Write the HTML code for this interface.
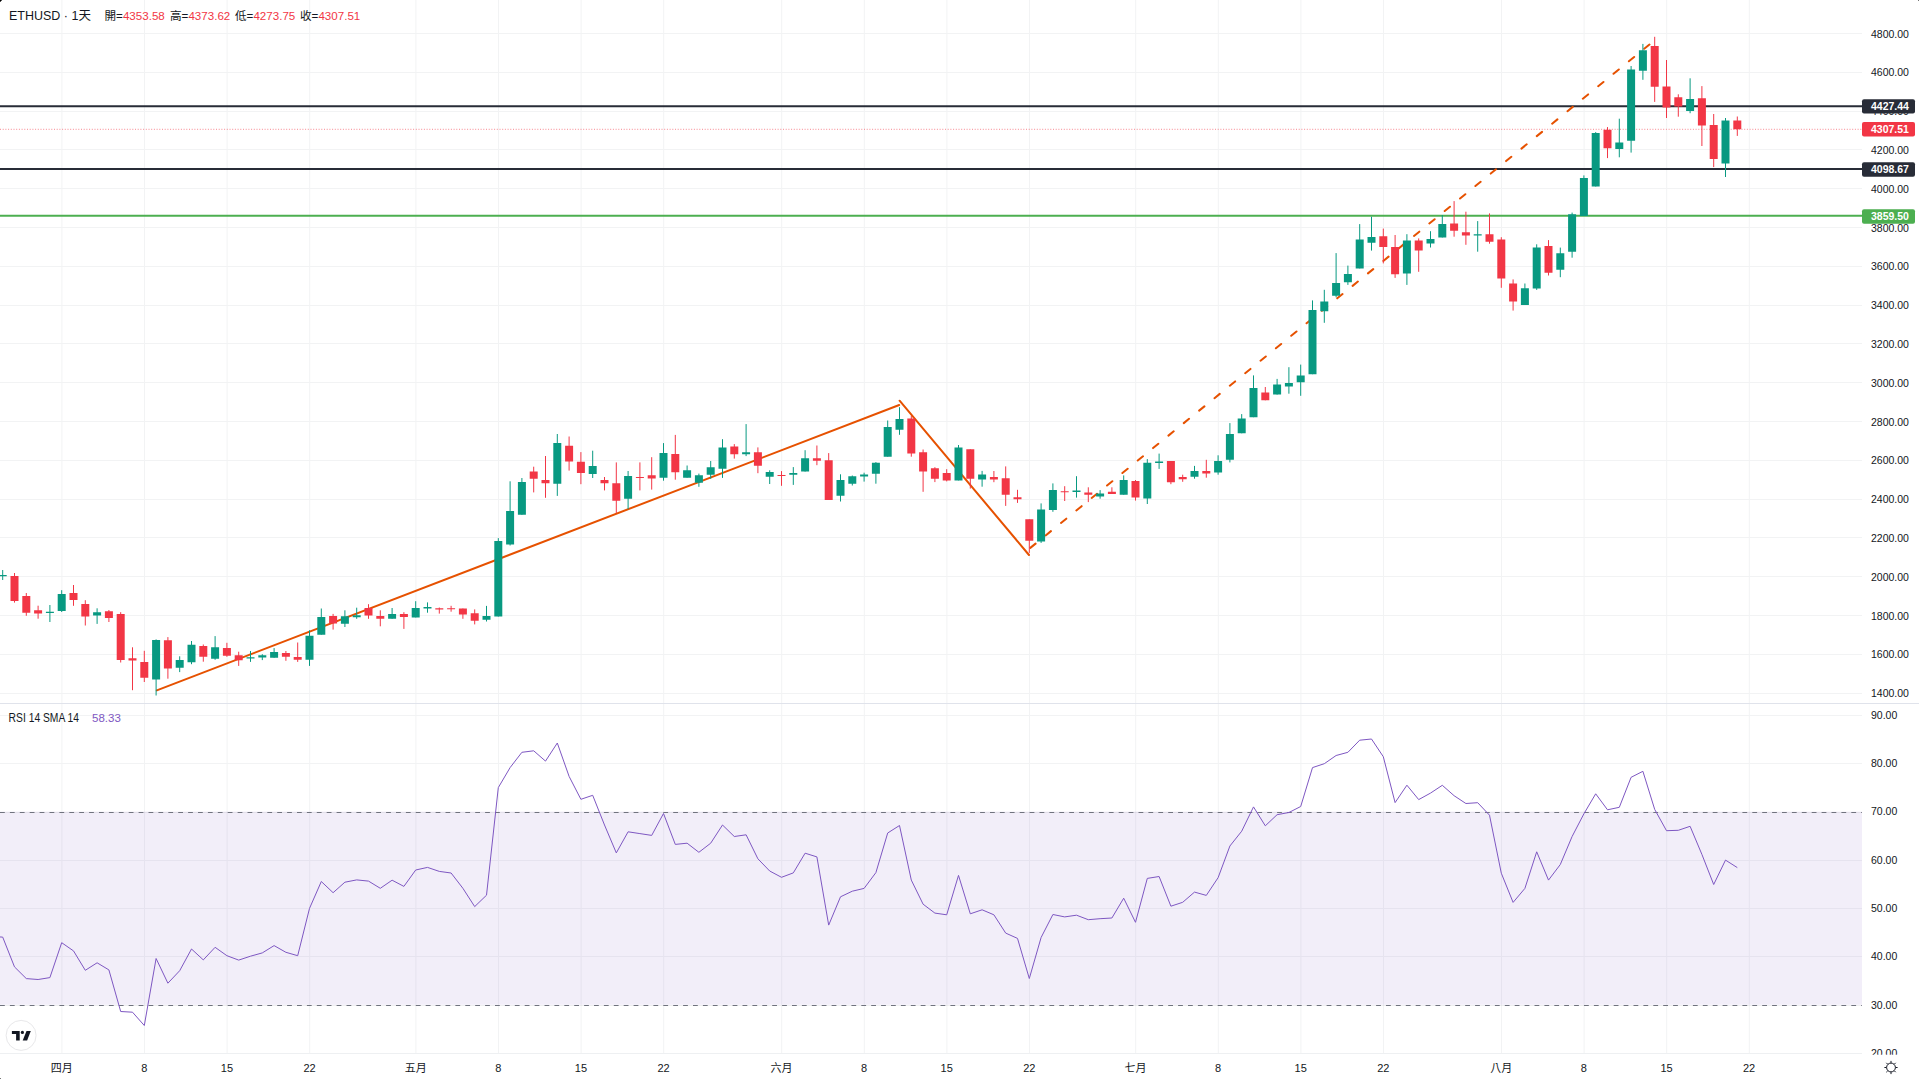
<!DOCTYPE html>
<html><head><meta charset="utf-8"><title>ETHUSD</title>
<style>html,body{margin:0;padding:0;background:#fff;width:1919px;height:1079px;overflow:hidden}</style>
</head><body>
<svg width="1919" height="1079" viewBox="0 0 1919 1079" style="position:absolute;left:0;top:0">
<rect x="0" y="0" width="1919" height="1079" fill="#ffffff"/>
<path d="M0 693.5H1862M0 654.5H1862M0 615.5H1862M0 576.5H1862M0 537.5H1862M0 499.5H1862M0 460.5H1862M0 421.5H1862M0 382.5H1862M0 343.5H1862M0 305.5H1862M0 266.5H1862M0 227.5H1862M0 188.5H1862M0 149.5H1862M0 111.5H1862M0 72.5H1862M0 33.5H1862M0 715.5H1862M0 763.5H1862M0 860.5H1862M0 908.5H1862M0 956.5H1862M0 1053.5H1862M61.90 0V1053.5M144.50 0V1053.5M227.10 0V1053.5M309.70 0V1053.5M415.90 0V1053.5M498.50 0V1053.5M581.10 0V1053.5M663.70 0V1053.5M781.70 0V1053.5M864.30 0V1053.5M946.90 0V1053.5M1029.50 0V1053.5M1135.70 0V1053.5M1218.30 0V1053.5M1300.90 0V1053.5M1383.50 0V1053.5M1501.50 0V1053.5M1584.10 0V1053.5M1666.70 0V1053.5M1749.30 0V1053.5" stroke="#f2f3f4" stroke-width="1" fill="none"/>
<rect x="0" y="811.6" width="1862" height="193.2" fill="#7e57c2" fill-opacity="0.1"/>
<path d="M0 703.5H1919" stroke="#e0e3eb" stroke-width="1"/>
<path d="M0 1053.5H1862" stroke="#eef0f2" stroke-width="1"/>
<path d="M0 812.5H1862" stroke="#787b86" stroke-opacity="0.12" stroke-width="1"/>
<path d="M0 812.5H1862" stroke="#70737e" stroke-width="1" stroke-dasharray="4.8 5.1"/>
<path d="M0 1005.5H1862" stroke="#787b86" stroke-opacity="0.12" stroke-width="1"/>
<path d="M0 1005.5H1862" stroke="#70737e" stroke-width="1" stroke-dasharray="4.8 5.1"/>
<path d="M0 106.2H1862" stroke="#282c37" stroke-width="2"/>
<path d="M0 168.9H1862" stroke="#282c37" stroke-width="2"/>
<path d="M0 215.8H1862" stroke="#4caf50" stroke-width="2"/>
<path d="M0 129.3H1862" stroke="#f23645" stroke-opacity="0.6" stroke-width="1" stroke-dasharray="1 1.7"/>
<path d="M156.8 690.4L899.2 405" stroke="#e65100" stroke-width="2" stroke-linecap="round" fill="none"/>
<path d="M899.6 400.7L1029 555" stroke="#e65100" stroke-width="2" stroke-linecap="round" fill="none"/>
<path d="M1030.3 547.9L1649.5 44.5" stroke="#e65100" stroke-width="2" stroke-linecap="round" stroke-dasharray="6.8 12.98" fill="none"/>
<path d="M2.70 570.0V580.0M49.90 605.0V622.0M61.70 590.2V612.0M97.10 608.3V623.9M156.10 639.4V695.5M179.70 656.3V672.1M191.50 641.0V664.2M215.10 636.1V659.8M250.50 651.0V661.9M262.30 654.2V660.1M274.10 648.1V657.8M309.50 630.3V665.9M321.30 608.5V634.7M344.90 610.3V627.0M356.70 607.7V618.8M392.10 608.0V618.8M415.70 601.2V617.4M427.50 602.4V612.7M486.50 605.9V621.5M498.30 538.1V616.5M510.10 481.3V545.5M521.90 478.0V514.8M557.30 434.0V495.9M592.70 450.7V478.0M628.10 471.0V509.1M663.50 443.1V480.7M687.10 465.5V477.7M698.90 473.6V486.8M710.70 461.0V478.8M722.50 439.2V477.9M746.10 424.1V456.1M769.70 470.3V484.0M793.30 467.1V484.9M805.10 450.2V471.6M840.50 474.3V501.5M852.30 475.5V485.5M864.10 472.7V481.6M875.90 462.1V483.7M887.70 420.5V456.7M899.50 407.2V434.8M958.50 445.0V480.4M982.10 470.9V486.7M1041.10 503.4V542.9M1052.90 483.4V511.8M1076.50 476.2V497.6M1100.10 490.1V498.7M1123.70 475.4V494.7M1147.30 459.1V504.0M1159.10 453.6V468.9M1194.50 465.9V478.7M1218.10 455.3V474.7M1229.90 423.1V462.4M1241.70 414.1V433.3M1253.50 375.4V417.2M1277.10 378.9V394.6M1288.90 367.2V393.7M1300.70 364.6V395.8M1312.50 300.4V374.2M1324.30 289.8V322.8M1336.10 253.1V297.3M1347.90 265.6V284.9M1359.70 224.1V268.4M1371.50 216.7V250.6M1406.90 234.2V284.9M1430.50 231.2V247.5M1442.30 215.0V237.5M1477.70 221.1V251.7M1524.90 283.5V304.9M1536.70 244.3V289.9M1560.30 247.6V277.2M1572.10 212.6V257.7M1583.90 175.4V215.9M1595.70 132.1V186.5M1619.30 118.7V157.3M1631.10 66.0V152.6M1642.90 43.9V79.8M1690.10 78.3V113.2M1725.50 118.0V177.0" stroke="#089981" stroke-width="1" fill="none"/>
<path d="M-1.30 575.0h8v1.2h-8zM45.90 611.8h8v1.2h-8zM57.70 594.1h8v16.8h-8zM93.10 612.2h8v3.4h-8zM152.10 640.0h8v39.5h-8zM175.70 660.1h8v7.7h-8zM187.50 644.7h8v17.5h-8zM211.10 647.3h8v11.5h-8zM246.50 657.3h8v1.2h-8zM258.30 655.2h8v2.3h-8zM270.10 651.9h8v5.9h-8zM305.50 635.7h8v24.1h-8zM317.30 616.9h8v17.8h-8zM340.90 616.2h8v7.5h-8zM352.70 615.2h8v2.0h-8zM388.10 614.1h8v4.7h-8zM411.70 608.0h8v9.4h-8zM423.50 607.0h8v1.5h-8zM482.50 615.9h8v3.8h-8zM494.30 541.0h8v75.5h-8zM506.10 511.1h8v33.4h-8zM517.90 481.9h8v32.9h-8zM553.30 443.0h8v40.8h-8zM588.70 466.1h8v8.0h-8zM624.10 476.0h8v22.8h-8zM659.50 453.0h8v24.7h-8zM683.10 470.2h8v7.5h-8zM694.90 475.3h8v7.4h-8zM706.70 467.3h8v7.5h-8zM718.50 447.4h8v21.4h-8zM742.10 452.3h8v1.9h-8zM765.70 471.9h8v4.8h-8zM789.30 473.0h8v1.8h-8zM801.10 458.2h8v13.4h-8zM836.50 480.1h8v15.6h-8zM848.30 476.3h8v7.4h-8zM860.10 474.5h8v2.0h-8zM871.90 462.8h8v11.0h-8zM883.70 427.1h8v29.6h-8zM895.50 419.0h8v10.7h-8zM954.50 447.5h8v32.9h-8zM978.10 474.5h8v5.1h-8zM1037.10 509.5h8v32.1h-8zM1048.90 490.1h8v19.8h-8zM1072.50 490.6h8v1.5h-8zM1096.10 493.6h8v2.9h-8zM1119.70 480.0h8v14.7h-8zM1143.30 462.8h8v35.6h-8zM1155.10 461.4h8v1.7h-8zM1190.50 471.0h8v5.7h-8zM1214.10 461.0h8v11.6h-8zM1225.90 433.9h8v25.9h-8zM1237.70 418.6h8v14.7h-8zM1249.50 388.0h8v29.2h-8zM1273.10 384.4h8v10.2h-8zM1284.90 382.9h8v3.5h-8zM1296.70 375.4h8v6.9h-8zM1308.50 310.0h8v64.2h-8zM1320.30 301.4h8v9.8h-8zM1332.10 282.9h8v12.8h-8zM1343.90 274.0h8v8.3h-8zM1355.70 239.5h8v28.9h-8zM1367.50 237.1h8v5.7h-8zM1402.90 240.4h8v33.0h-8zM1426.50 238.9h8v4.7h-8zM1438.30 224.1h8v13.4h-8zM1473.70 234.2h8v1.4h-8zM1520.90 288.2h8v16.7h-8zM1532.70 247.6h8v40.9h-8zM1556.30 253.2h8v16.6h-8zM1568.10 214.3h8v37.5h-8zM1579.90 178.0h8v37.9h-8zM1591.70 132.9h8v53.6h-8zM1615.30 142.4h8v6.6h-8zM1627.10 69.4h8v71.4h-8zM1638.90 50.2h8v20.5h-8zM1686.10 99.0h8v11.9h-8zM1721.50 120.6h8v43.0h-8z" fill="#089981"/>
<path d="M14.50 573.0V602.6M26.30 593.0V615.8M38.10 605.7V618.7M73.50 585.0V605.8M85.30 600.2V625.5M108.90 610.0V622.0M120.70 612.2V662.5M132.50 647.3V690.2M144.30 650.8V682.0M167.90 637.1V678.7M203.30 644.5V661.7M226.90 642.8V656.8M238.70 651.7V665.9M285.90 651.0V660.8M297.70 642.5V661.9M333.10 613.9V629.6M368.50 604.2V618.8M380.30 610.3V626.3M403.90 612.2V628.9M439.30 607.5V613.6M451.10 605.8V611.7M462.90 608.5V618.8M474.70 609.4V624.4M533.70 466.7V492.4M545.50 456.0V497.8M569.10 436.5V470.6M580.90 452.1V484.2M604.50 477.0V490.4M616.30 462.4V513.0M639.90 462.4V490.4M651.70 457.2V489.6M675.30 434.9V479.7M734.30 444.1V458.6M757.90 447.4V473.2M781.50 471.1V485.8M816.90 445.5V465.2M828.70 453.1V499.9M911.30 415.9V456.7M923.10 449.5V491.8M934.90 467.2V482.1M946.70 469.2V481.4M970.30 449.2V488.6M993.90 471.0V482.2M1005.70 466.4V505.9M1017.50 489.8V502.9M1029.30 519.3V552.9M1064.70 486.2V501.0M1088.30 487.3V502.1M1111.90 487.3V494.0M1135.50 480.0V500.6M1170.90 461.0V484.2M1182.70 474.7V481.8M1206.30 459.8V477.7M1265.30 387.0V400.3M1383.30 228.6V263.4M1395.10 235.0V277.9M1418.70 238.4V271.8M1454.10 201.1V236.7M1465.90 211.7V244.8M1489.50 213.4V243.7M1501.30 237.2V287.8M1513.10 279.4V310.6M1548.50 240.1V275.5M1607.50 127.1V158.1M1654.70 36.8V101.9M1666.50 60.0V118.0M1678.30 94.3V116.7M1701.90 86.1V146.0M1713.70 114.0V167.1M1737.30 116.5V135.9" stroke="#f23645" stroke-width="1" fill="none"/>
<path d="M10.50 576.0h8v25.0h-8zM22.30 596.0h8v16.8h-8zM34.10 610.2h8v3.4h-8zM69.50 593.1h8v6.9h-8zM81.30 604.1h8v12.4h-8zM104.90 611.3h8v6.7h-8zM116.70 614.1h8v45.9h-8zM128.50 658.3h8v2.3h-8zM140.30 661.9h8v15.9h-8zM163.90 640.2h8v28.3h-8zM199.30 646.1h8v10.7h-8zM222.90 648.1h8v7.6h-8zM234.70 655.2h8v5.1h-8zM281.90 652.9h8v3.9h-8zM293.70 657.1h8v2.7h-8zM329.10 616.0h8v7.5h-8zM364.50 608.0h8v7.5h-8zM376.30 616.0h8v2.8h-8zM399.90 614.1h8v2.8h-8zM435.30 608.2h8v1.2h-8zM447.10 608.3h8v1.0h-8zM458.90 608.5h8v6.1h-8zM470.70 613.3h8v7.4h-8zM529.70 471.6h8v7.2h-8zM541.50 479.9h8v3.3h-8zM565.10 445.7h8v15.7h-8zM576.90 461.8h8v11.1h-8zM600.50 479.9h8v3.3h-8zM612.30 483.2h8v17.6h-8zM635.90 477.0h8v1.0h-8zM647.70 475.3h8v3.3h-8zM671.30 453.9h8v18.3h-8zM730.30 446.4h8v7.8h-8zM753.90 452.2h8v13.6h-8zM777.50 475.0h8v1.0h-8zM812.90 458.2h8v2.5h-8zM824.70 460.2h8v39.7h-8zM907.30 418.6h8v35.0h-8zM919.10 452.3h8v19.1h-8zM930.90 468.2h8v10.6h-8zM942.70 473.0h8v7.4h-8zM966.30 449.2h8v29.6h-8zM989.90 477.1h8v2.4h-8zM1001.70 478.2h8v16.5h-8zM1013.50 497.3h8v1.9h-8zM1025.30 519.3h8v21.4h-8zM1060.70 491.2h8v1.1h-8zM1084.30 492.6h8v2.1h-8zM1107.90 491.7h8v2.3h-8zM1131.50 480.9h8v16.7h-8zM1166.90 461.0h8v21.2h-8zM1178.70 477.1h8v2.2h-8zM1202.30 471.0h8v2.6h-8zM1261.30 392.5h8v7.8h-8zM1379.30 236.2h8v10.9h-8zM1391.10 247.1h8v27.1h-8zM1414.70 240.4h8v10.2h-8zM1450.10 223.4h8v7.4h-8zM1461.90 232.3h8v3.3h-8zM1485.50 234.2h8v7.5h-8zM1497.30 239.4h8v39.2h-8zM1509.10 283.5h8v18.0h-8zM1544.50 246.0h8v26.7h-8zM1603.50 129.8h8v18.4h-8zM1650.70 46.0h8v40.8h-8zM1662.50 86.4h8v21.0h-8zM1674.30 97.2h8v9.4h-8zM1697.90 98.3h8v27.2h-8zM1709.70 125.0h8v33.9h-8zM1733.30 120.4h8v8.9h-8z" fill="#f23645"/>
<path d="M-9.1 936.5L2.7 937.1L14.5 966.9L26.3 978.6L38.1 979.5L49.9 977.6L61.7 942.7L73.5 950.9L85.3 970.3L97.1 962.8L108.9 969.9L120.7 1011.5L132.5 1012.2L144.3 1025.5L156.1 958.5L167.9 983.2L179.7 970.7L191.5 949.0L203.3 959.9L215.1 947.3L226.9 955.7L238.7 960.1L250.5 956.2L262.3 952.9L274.1 945.6L285.9 952.3L297.7 955.7L309.5 908.4L321.3 881.5L333.1 892.7L344.9 882.2L356.7 879.9L368.5 881.1L380.3 888.3L392.1 880.2L403.9 886.4L415.7 870.0L427.5 867.4L439.3 871.4L451.1 873.0L462.9 888.3L474.7 906.6L486.5 895.2L498.3 787.6L510.1 767.6L521.9 752.3L533.7 750.8L545.5 761.1L557.3 743.0L569.1 776.4L580.9 799.3L592.7 795.3L604.5 825.0L616.3 852.9L628.1 831.8L639.9 833.6L651.7 835.4L663.5 813.5L675.3 844.4L687.1 843.2L698.9 852.3L710.7 843.2L722.5 825.0L734.3 836.5L746.1 834.8L757.9 858.8L769.7 871.0L781.5 877.3L793.3 872.9L805.1 853.2L816.9 856.9L828.7 925.1L840.5 896.8L852.3 891.2L864.1 888.4L875.9 872.6L887.7 833.0L899.5 825.5L911.3 880.1L923.1 904.2L934.9 913.1L946.7 914.8L958.5 875.4L970.3 913.8L982.1 909.8L993.9 914.8L1005.7 933.1L1017.5 938.4L1029.3 978.5L1041.1 937.5L1052.9 914.5L1064.7 916.9L1076.5 915.2L1088.3 919.7L1100.1 918.7L1111.9 918.0L1123.7 898.2L1135.5 922.3L1147.3 878.4L1159.1 876.5L1170.9 906.2L1182.7 902.3L1194.5 892.1L1206.3 895.4L1218.1 877.7L1229.9 846.0L1241.7 831.2L1253.5 806.9L1265.3 825.8L1277.1 814.7L1288.9 812.5L1300.7 806.5L1312.5 767.6L1324.3 763.7L1336.1 755.5L1347.9 752.3L1359.7 740.2L1371.5 739.0L1383.3 756.7L1395.1 802.6L1406.9 785.2L1418.7 799.6L1430.5 793.1L1442.3 785.3L1454.1 795.7L1465.9 803.5L1477.7 802.7L1489.5 815.2L1501.3 873.2L1513.1 902.4L1524.9 888.4L1536.7 851.8L1548.5 880.1L1560.3 864.5L1572.1 836.5L1583.9 813.8L1595.7 793.8L1607.5 809.8L1619.3 807.3L1631.1 777.3L1642.9 771.3L1654.7 809.4L1666.5 830.7L1678.3 830.3L1690.1 826.3L1701.9 854.4L1713.7 884.5L1725.5 860.1L1737.3 867.6" stroke="#7e57c2" stroke-width="1" fill="none" stroke-linejoin="round"/>
<g font-family='"Liberation Sans", "Noto Sans CJK TC", sans-serif' font-size="10.5" fill="#131722"><text x="1871" y="697.2">1400.00</text><text x="1871" y="658.4">1600.00</text><text x="1871" y="619.6">1800.00</text><text x="1871" y="580.8">2000.00</text><text x="1871" y="542.0">2200.00</text><text x="1871" y="503.2">2400.00</text><text x="1871" y="464.4">2600.00</text><text x="1871" y="425.6">2800.00</text><text x="1871" y="386.8">3000.00</text><text x="1871" y="347.9">3200.00</text><text x="1871" y="309.1">3400.00</text><text x="1871" y="270.3">3600.00</text><text x="1871" y="231.5">3800.00</text><text x="1871" y="192.7">4000.00</text><text x="1871" y="153.9">4200.00</text><text x="1871" y="115.1">4400.00</text><text x="1871" y="76.3">4600.00</text><text x="1871" y="37.5">4800.00</text><text x="1871" y="718.8">90.00</text><text x="1871" y="767.1">80.00</text><text x="1871" y="815.4">70.00</text><text x="1871" y="863.7">60.00</text><text x="1871" y="912.0">50.00</text><text x="1871" y="960.3">40.00</text><text x="1871" y="1008.6">30.00</text></g>
<clipPath id="rc"><rect x="1862" y="704" width="57" height="350.8"/></clipPath>
<text clip-path="url(#rc)" x="1871" y="1056.9" font-family='"Liberation Sans", "Noto Sans CJK TC", sans-serif' font-size="10.5" fill="#131722">20.00</text>
<rect x="1862" y="99.2" width="53" height="14.4" rx="2" fill="#282c37"/><text x="1871" y="110.2" font-family='"Liberation Sans", "Noto Sans CJK TC", sans-serif' font-size="10.5" font-weight="bold" fill="#ffffff">4427.44</text>
<rect x="1862" y="122.0" width="53" height="14.4" rx="2" fill="#f23645"/><text x="1871" y="133.0" font-family='"Liberation Sans", "Noto Sans CJK TC", sans-serif' font-size="10.5" font-weight="bold" fill="#ffffff">4307.51</text>
<rect x="1862" y="162.3" width="53" height="14.4" rx="2" fill="#282c37"/><text x="1871" y="173.3" font-family='"Liberation Sans", "Noto Sans CJK TC", sans-serif' font-size="10.5" font-weight="bold" fill="#ffffff">4098.67</text>
<rect x="1862" y="209.3" width="53" height="14.4" rx="2" fill="#4caf50"/><text x="1871" y="220.3" font-family='"Liberation Sans", "Noto Sans CJK TC", sans-serif' font-size="10.5" font-weight="bold" fill="#ffffff">3859.50</text>
<g font-family='"Liberation Sans", "Noto Sans CJK TC", sans-serif' font-size="11" fill="#131722"><text x="61.7" y="1071.5" text-anchor="middle">四月</text><text x="144.3" y="1071.5" text-anchor="middle">8</text><text x="226.9" y="1071.5" text-anchor="middle">15</text><text x="309.5" y="1071.5" text-anchor="middle">22</text><text x="415.7" y="1071.5" text-anchor="middle">五月</text><text x="498.3" y="1071.5" text-anchor="middle">8</text><text x="580.9" y="1071.5" text-anchor="middle">15</text><text x="663.5" y="1071.5" text-anchor="middle">22</text><text x="781.5" y="1071.5" text-anchor="middle">六月</text><text x="864.1" y="1071.5" text-anchor="middle">8</text><text x="946.7" y="1071.5" text-anchor="middle">15</text><text x="1029.3" y="1071.5" text-anchor="middle">22</text><text x="1135.5" y="1071.5" text-anchor="middle">七月</text><text x="1218.1" y="1071.5" text-anchor="middle">8</text><text x="1300.7" y="1071.5" text-anchor="middle">15</text><text x="1383.3" y="1071.5" text-anchor="middle">22</text><text x="1501.3" y="1071.5" text-anchor="middle">八月</text><text x="1583.9" y="1071.5" text-anchor="middle">8</text><text x="1666.5" y="1071.5" text-anchor="middle">15</text><text x="1749.1" y="1071.5" text-anchor="middle">22</text></g>
<text x="9" y="20" font-family='"Liberation Sans", "Noto Sans CJK TC", sans-serif' font-size="12.5" fill="#131722">ETHUSD · 1天</text>
<text x="104.5" y="20" font-family='"Liberation Sans", "Noto Sans CJK TC", sans-serif' font-size="11.6" fill="#131722">開=<tspan fill="#f23645">4353.58</tspan></text>
<text x="170" y="20" font-family='"Liberation Sans", "Noto Sans CJK TC", sans-serif' font-size="11.6" fill="#131722">高=<tspan fill="#f23645">4373.62</tspan></text>
<text x="235" y="20" font-family='"Liberation Sans", "Noto Sans CJK TC", sans-serif' font-size="11.6" fill="#131722">低=<tspan fill="#f23645">4273.75</tspan></text>
<text x="300" y="20" font-family='"Liberation Sans", "Noto Sans CJK TC", sans-serif' font-size="11.6" fill="#131722">收=<tspan fill="#f23645">4307.51</tspan></text>
<text x="8.6" y="722" font-family='"Liberation Sans", "Noto Sans CJK TC", sans-serif' font-size="12" fill="#131722" textLength="70.5" lengthAdjust="spacingAndGlyphs">RSI 14 SMA 14</text>
<text x="92" y="722" font-family='"Liberation Sans", "Noto Sans CJK TC", sans-serif' font-size="11.5" fill="#7e57c2">58.33</text>
<rect x="0" y="0" width="1" height="1" fill="#000"/><rect x="1" y="0" width="1" height="1" fill="#555"/><rect x="0" y="1" width="1" height="1" fill="#555"/>
<rect x="1918" y="0" width="1" height="1" fill="#777"/><rect x="0" y="1078" width="1" height="1" fill="#777"/>
<circle cx="21.1" cy="1035.4" r="15" fill="#ffffff" stroke="#e8e8ea" stroke-width="1"/>
<path d="M11.9 1030.9H19.7V1040.6H16.1V1034.1H11.9Z" fill="#131722"/>
<circle cx="22.4" cy="1032.4" r="1.6" fill="#131722"/>
<path d="M26.5 1030.9H30.8L27.1 1040.6H22.7Z" fill="#131722"/>
<g stroke="#131722" fill="none" stroke-width="1"><circle cx="1891" cy="1067.5" r="4.4"/><path d="M1895.60 1067.50L1897.60 1067.50"/><path d="M1894.25 1070.75L1895.67 1072.17"/><path d="M1891.00 1072.10L1891.00 1074.10"/><path d="M1887.75 1070.75L1886.33 1072.17"/><path d="M1886.40 1067.50L1884.40 1067.50"/><path d="M1887.75 1064.25L1886.33 1062.83"/><path d="M1891.00 1062.90L1891.00 1060.90"/><path d="M1894.25 1064.25L1895.67 1062.83"/></g>
</svg>
</body></html>
